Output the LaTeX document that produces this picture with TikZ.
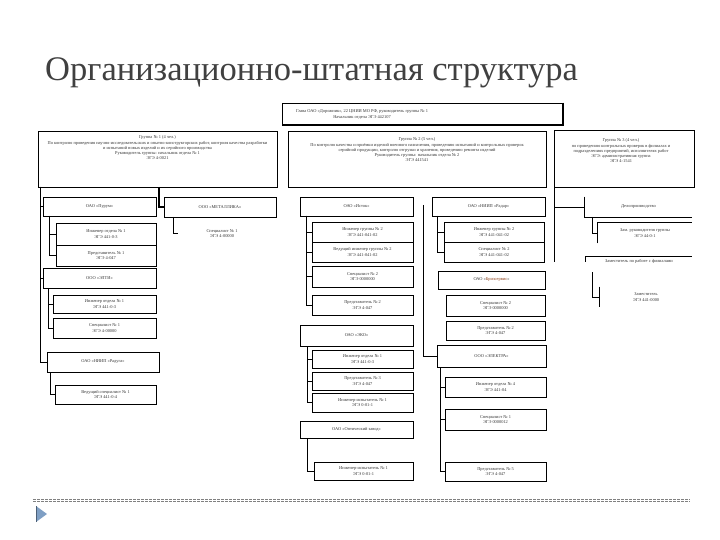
\documentclass[tikz,border=0pt]{standalone}
\usepackage{fontspec}
\setmainfont{Liberation Serif}
\usetikzlibrary{calc}
\definecolor{titlegray}{HTML}{404040}
\definecolor{txtgray}{HTML}{333333}
\definecolor{brick}{HTML}{8A3A12}
\definecolor{arrowblue}{HTML}{7F9FC4}
\newcommand\obox[6]{\node[bx,minimum width={(#4-#2)*1pt},minimum height={(#5-#3)*1pt}] (#1) at ({(#2+#4)/2},{(#3+#5)/2}) {#6};}
\newcommand\tbox[6]{\node[bx,draw=none,minimum width={(#4-#2)*1pt},minimum height={(#5-#3)*1pt}] (#1) at ({(#2+#4)/2},{(#3+#5)/2}) {#6};}
\begin{document}
\begin{tikzpicture}[x=1pt,y=-1pt,
  bx/.style={draw=black,line width=0.55pt,inner sep=0pt,align=center,text=txtgray,font=\fontsize{4.4}{5.6}\selectfont},
  ln/.style={draw=black,line width=0.6pt},
  tx/.style={inner sep=0pt,align=center,text=txtgray,font=\fontsize{4.4}{5.2}\selectfont}]
\useasboundingbox (0,0) rectangle (720,540);
% title
\node[anchor=base west,inner sep=0pt,text=titlegray,font=\fontsize{34.5}{38}\selectfont] (title) at (45,81) {Организационно-штатная структура};
% top box
\obox{top}{282}{103}{563}{125}{}
\draw[line width=1.8pt] (top.north east) -- (top.south east) -- (top.south west);
\node[tx] (toptxt) at (362,114.5) {Глава ОАО «Дорожник», 22 ЦНИИ МО РФ, руководитель группы № 1\\Начальник отдела ЭГЭ 442107};
% group boxes
\obox{g1}{38}{131}{277}{187}{}
\obox{g2}{288}{131}{546}{187}{}
\obox{g3}{554}{130}{694}{187}{}
\node[tx,anchor=north] (g1t) at ($(g1.north)+(0,5)$) {Группа № 1 (4 чел.)\\По контролю проведения научно-исследовательских и опытно-конструкторских работ, контроля качества разработки\\и испытаний новых изделий и их серийного производства\\Руководитель группы: начальник отдела № 1\\ЭГЭ 4-0021};
\node[tx,anchor=north] (g2t) at ($(g2.north)+(0,7)$) {Группа № 2 (5 чел.)\\По контролю качества и приёмки изделий военного назначения, проведению испытаний и контрольных проверок\\серийной продукции, контролю отгрузки и хранения, проведению ремонта изделий\\Руководитель группы: начальник отдела № 2\\ЭГЭ 441541};
\node[tx,anchor=north] (g3t) at ($(g3.north)+(-3,9)$) {Группа № 3 (4 чел.)\\по проведению контрольных проверок в филиалах и\\подразделениях предприятий, исполнителях работ\\ЭГЭ: административная группа\\ЭГЭ 4-1541};
% ---- group 1, column A
\obox{A1}{43}{197}{156}{216}{ОАО «Пурум»}
\obox{A2}{56}{223}{156}{245}{Инженер отдела № 1\\ЭГЭ 441-0-3}
\obox{A3}{56}{245}{156}{266}{Представитель № 1\\ЭГЭ 4-047}
\obox{A4}{43}{268}{156}{288}{ООО «ЭЛТИ»}
\obox{A5}{53}{295}{156}{313}{Инженер отдела № 1\\ЭГЭ 441-0-3}
\obox{A6}{53}{318}{156}{338}{Специалист № 1\\ЭГЭ 4-00000}
\obox{A7}{47}{352}{159}{372}{ОАО «НИИП «Радуга»}
\obox{A8}{55}{385}{156}{404}{Ведущий специалист № 1\\ЭГЭ 441-0-4}
\coordinate (bA) at (40,187);
\draw[ln] (bA) |- (A1.west);
\draw[ln] (bA) |- (A4.west);
\draw[ln] (bA) |- (A7.west);
\coordinate (bA1) at (49,216);
\draw[ln] (bA1) |- (A2.west);
\draw[ln] (bA1) |- (A3.west);
\coordinate (bA4) at (48,288);
\draw[ln] (bA4) |- (A5.west);
\draw[ln] (bA4) |- (A6.west);
\coordinate (bA7) at (50,372);
\draw[ln] (bA7) |- (A8.west);
% ---- group 1, column B
\obox{B1}{164}{197}{276}{217}{ООО «МЕТАЛЛИКА»}
\tbox{B2}{178}{224}{266}{243}{Специалист № 1\\ЭГЭ 4-00000}
\coordinate (bB) at (159,187);
\draw[line width=1.2pt] (bB) |- (B1.west);
\coordinate (bB1) at (173,217);
\draw[ln] (bB1) |- (B2.west);
% ---- group 2, column C
\obox{C1}{300}{197}{413}{216}{ОАО «Исток»}
\obox{C2}{312}{222}{413}{242}{Инженер группы № 2\\ЭГЭ 441-041-02}
\obox{C3}{312}{242}{413}{262}{Ведущий инженер группы № 2\\ЭГЭ 441-041-02}
\obox{C4}{312}{266}{413}{287}{Специалист № 2\\ЭГЭ 0000000}
\obox{C5}{312}{295}{413}{315}{Представитель № 2\\ЭГЭ 4-047}
\obox{C6}{300}{325}{413}{346}{ОАО «ЭКО»}
\obox{C7}{312}{350}{413}{368}{Инженер отдела № 1\\ЭГЭ 441-0-3}
\obox{C8}{312}{372}{413}{390}{Представитель № 3\\ЭГЭ 4-047}
\obox{C9}{312}{393}{413}{412}{Инженер-испытатель № 1\\ЭГЭ 0-01-1}
\obox{C10}{300}{421}{413}{438}{ОАО «Оптический завод»}
\obox{C11}{314}{462}{413}{480}{Инженер-испытатель № 1\\ЭГЭ 0-01-1}
\coordinate (bC1) at (306,216);
\draw[ln] (bC1) |- (C2.west);
\draw[ln] (bC1) |- (C3.west);
\draw[ln] (bC1) |- (C4.west);
\draw[ln] (bC1) |- (C5.west);
\coordinate (bC6) at (307,346);
\draw[ln] (bC6) |- (C7.west);
\draw[ln] (bC6) |- (C8.west);
\draw[ln] (bC6) |- (C9.west);
\coordinate (bC10) at (307,438);
\draw[ln] (bC10) |- (C11.west);
% ---- group 2, column D
\obox{D1}{432}{197}{545}{216}{ОАО «НИИП «Радар»}
\obox{D2}{444}{222}{544}{242}{Инженер группы № 2\\ЭГЭ 441-041-02}
\obox{D3}{444}{242}{544}{262}{Специалист № 2\\ЭГЭ 441-041-02}
\obox{D4}{438}{271}{545}{289}{ОАО «\textcolor{brick}{Бризсервис}»}
\obox{D5}{446}{295}{545}{316}{Специалист № 2\\ЭГЭ 0000000}
\obox{D6}{446}{321}{545}{340}{Представитель № 2\\ЭГЭ 4-047}
\obox{D7}{437}{345}{546}{367}{ООО «ЭЛЕКТРА»}
\obox{D8}{445}{377}{546}{397}{Инженер отдела № 4\\ЭГЭ 441-04}
\obox{D9}{445}{409}{546}{430}{Специалист № 1\\ЭГЭ 0000012}
\obox{D10}{445}{462}{546}{481}{Представитель № 5\\ЭГЭ 4-047}
\coordinate (bD) at (423,205);
\draw[ln] (bD) |- (D7.west);
\coordinate (bD1) at (437,216);
\draw[ln] (bD1) |- (D2.west);
\draw[ln] (bD1) |- (D3.west);
\coordinate (bD7) at (440,367);
\draw[ln] (bD7) |- (D8.west);
\draw[ln] (bD7) |- (D9.west);
\draw[ln] (bD7) |- (D10.west);
% ---- group 3, column E
\tbox{E1}{585}{197}{692}{217}{Делопроизводство}
\tbox{E2}{598}{223}{692}{243}{Зам. руководителя группы\\ЭГЭ 44-0-1}
\tbox{E3}{586}{257}{692}{270}{Заместитель по работе с филиалами\\}
\tbox{E4}{600}{287}{692}{307}{Заместитель\\ЭГЭ 441-0000}
\draw[ln] (E1.north west) -- (E1.south west) -- (E1.south east);
\draw[ln] (E2.south west) -- (E2.north west) -- (E2.north east);
\draw[ln] ($(E3.north west)+(0,5)$) -- (E3.north west) -- (E3.north east);
\draw[ln] (E4.north west) -- (E4.south west);
\coordinate (bE) at (554,187);
\draw[ln] (bE) |- (E1.west);
\draw[ln] (bE) -- (554,262);
\coordinate (bE1) at (592,217);
\draw[ln] (bE1) |- (E2.west);
\coordinate (bE3) at (592,272);
\draw[ln] (bE3) |- (E4.west);
% footer
\draw[gray,line width=0.4pt,dash pattern=on 3pt off 1pt] (33,499) -- (690,499);
\draw[gray,line width=0.4pt,dash pattern=on 3pt off 1pt] (33,501.5) -- (690,501.5);
\fill[arrowblue] (36,506) -- (47,514) -- (36,522) -- cycle;
\draw[arrowblue!60!black,line width=0.8pt] (36,506) -- (36,522);
\end{tikzpicture}
\end{document}
